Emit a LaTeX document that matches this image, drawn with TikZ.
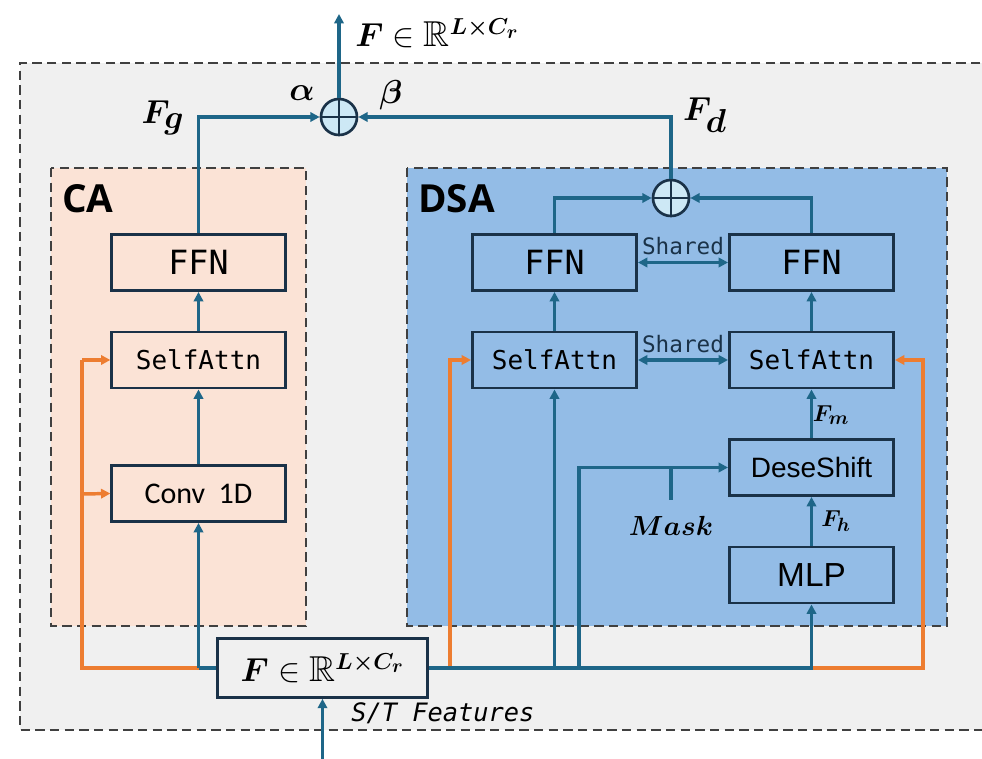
\documentclass[tikz,border=0pt]{standalone}
\usepackage{amsmath,amssymb,bm}
\usepackage{fontspec}
\newfontfamily\monofont{DejaVu Sans Mono}
\newfontfamily\calfont{Carlito}
\newfontfamily\arfont{Liberation Sans}
\newfontfamily\boldsans{Open Sans}
\usetikzlibrary{arrows.meta}
\definecolor{lineblue}{RGB}{30,102,136}
\definecolor{boxline}{RGB}{26,50,72}
\definecolor{dashgray}{RGB}{64,64,64}
\definecolor{outerbg}{RGB}{240,240,240}
\definecolor{cafill}{RGB}{251,227,214}
\definecolor{dsafill}{RGB}{147,188,230}
\definecolor{circfill}{RGB}{205,232,245}
\definecolor{orangeline}{RGB}{237,125,49}
\tikzset{
  blk/.style={draw=boxline, line width=2.2pt, inner sep=0pt, minimum width=123pt, minimum height=42pt, text=black},
  cablk/.style={blk, minimum width=130pt},
  bl/.style={draw=lineblue, line width=2.6pt},
  ora/.style={draw=orangeline, line width=2.6pt},
  tip/.style={-{Triangle[length=7pt,width=7pt]}},
  dtip/.style={{Triangle[length=7pt,width=7pt]}-{Triangle[length=7pt,width=7pt]}},
  region/.style={draw=dashgray, dashed, dash pattern=on 7pt off 4pt, line width=1.4pt},
  plus/.style={circle, draw=boxline, fill=circfill, line width=2pt, minimum size=27pt, inner sep=0pt},
  mlab/.style={inner sep=0pt, text=black}
}
\begin{document}
\begin{tikzpicture}[x=0.75pt,y=-0.75pt]
\useasboundingbox (0,0) rectangle (982,759);
% regions
\fill[outerbg] (20,63) rectangle (995,730);
\draw[region] (995,63) -- (20,63) -- (20,730) -- (995,730);
\filldraw[region, fill=cafill] (51,168) rectangle (306,626);
\filldraw[region, fill=dsafill] (407,168) rectangle (947,626);
\node[mlab, anchor=north west, font=\boldsans\bfseries\fontsize{29}{29}\selectfont] (calab) at (62,184) {CA};
\node[mlab, anchor=north west, font=\boldsans\bfseries\fontsize{29}{29}\selectfont] (dsalab) at (418,184) {DSA};
% CA blocks
\node[cablk, font=\monofont\fontsize{25}{25}\selectfont] (cffn) at (198.5,262.5) {FFN};
\node[cablk, font=\monofont\fontsize{19.5}{19.5}\selectfont] (csa) at (198.5,360) {SelfAttn};
\node[cablk, font=\calfont\fontsize{22.5}{22.5}\selectfont] (conv) at (198.5,493.5) {Conv\ \ 1D};
% DSA blocks
\node[blk, font=\monofont\fontsize{25}{25}\selectfont] (lffn) at (554.5,262.5) {FFN};
\node[blk, font=\monofont\fontsize{19.5}{19.5}\selectfont] (lsa) at (554.5,360) {SelfAttn};
\node[blk, font=\monofont\fontsize{25}{25}\selectfont] (rffn) at (811.5,262.5) {FFN};
\node[blk, font=\monofont\fontsize{19.5}{19.5}\selectfont] (rsa) at (811.5,360) {SelfAttn};
\node[blk, minimum height=42pt, font=\arfont\fontsize{21}{21}\selectfont] (dese) at (811.5,467.5) {DeseShift};
\node[blk, minimum height=42pt, font=\arfont\fontsize{25}{25}\selectfont] (mlp) at (811.5,575) {MLP};
% input box
\node[draw=boxline, line width=2.2pt, fill=outerbg, inner sep=0pt, minimum width=158pt, minimum height=44pt, font=\fontsize{27}{27}\selectfont] (fin) at (322.5,668) {$\bm{F}\in\mathbb{R}^{\bm{L\times C_r}}$};
% plus circles
\node[plus] (p1) at (339,117) {};
\draw[boxline, line width=1.7pt] (p1.north)--(p1.south) (p1.west)--(p1.east);
\node[plus] (p2) at (671,198) {};
\draw[boxline, line width=1.7pt] (p2.north)--(p2.south) (p2.west)--(p2.east);
% coordinates
\coordinate (inbot) at (322.5,759);
\coordinate (outtop) at (339,14);
\coordinate (jl) at (198.5,668);
\coordinate (ol) at (82,668);
\coordinate (olsa) at (82,360);
\coordinate (olcv) at (82,494);
\coordinate (or1) at (450,668);
\coordinate (or1t) at (450,360);
\coordinate (jr) at (811.5,668);
\coordinate (or2) at (923,668);
\coordinate (or2t) at (923,360);
\coordinate (b1) at (554.5,668);
\coordinate (b2) at (579,668);
\coordinate (b2t) at (579,467.5);
\coordinate (mk) at (671,467.5);
\coordinate (mkb) at (671,500);
% orange lines
\draw[ora] (jl) -- (ol) -- (olsa);
\draw[ora, tip] (olsa) -- (csa.west);
\draw[ora, tip] (olcv) -- (conv.west);
\draw[ora, tip] (or1) -- (or1t) -- (lsa.west);
\draw[ora, tip] (jr) -- (or2) -- (or2t) -- (rsa.east);
% blue lines
\draw[bl, tip] (inbot) -- (fin.south);
\draw[bl] (fin.west) -- (jl);
\draw[bl, tip] (jl) -- (conv.south);
\draw[bl, tip] (conv.north) -- (csa.south);
\draw[bl, tip] (csa.north) -- (cffn.south);
\draw[bl, tip] (cffn.north) |- (p1.west);
\draw[bl, tip] (fin.east) -- (jr) -- (mlp.south);
\draw[bl, tip] (b1) -- (lsa.south);
\draw[bl, tip] (b2) -- (b2t) -- (dese.west);
\draw[bl] (mk) -- (mkb);
\draw[bl, tip] (mlp.north) -- (dese.south);
\draw[bl, tip] (dese.north) -- (rsa.south);
\draw[bl, tip] (lsa.north) -- (lffn.south);
\draw[bl, tip] (rsa.north) -- (rffn.south);
\draw[bl, tip] (lffn.north) |- (p2.west);
\draw[bl, tip] (rffn.north) |- (p2.east);
\draw[bl, tip] (p2.north) |- (p1.east);
\draw[bl, tip] (p1.north) -- (outtop);
\draw[bl, dtip] (lffn.east) -- (rffn.west) node[midway, above=1pt, font=\monofont\fontsize{17}{17}\selectfont, text=boxline] (sh1) {Shared};
\draw[bl, dtip] (lsa.east) -- (rsa.west) node[midway, above=1pt, font=\monofont\fontsize{17}{17}\selectfont, text=boxline] (sh2) {Shared};
% labels
\node[mlab, anchor=base west, font=\fontsize{27}{27}\selectfont] (outlab) at (355,47) {$\bm{F}\in\mathbb{R}^{\bm{L\times C_r}}$};
\node[mlab, font=\fontsize{27}{27}\selectfont] (alab) at (302,93) {$\bm{\alpha}$};
\node[mlab, font=\fontsize{27}{27}\selectfont] (blab) at (391,95) {$\bm{\beta}$};
\node[mlab, font=\fontsize{28}{28}\selectfont] (fglab) at (163,118) {$\bm{F_{\textstyle g}}$};
\node[mlab, font=\fontsize{28}{28}\selectfont] (fdlab) at (705,115) {$\bm{F_{\textstyle d}}$};
\node[mlab, font=\fontsize{19}{19}\selectfont] (fmlab) at (831,415) {$\bm{F_m}$};
\node[mlab, font=\fontsize{19}{19}\selectfont] (fhlab) at (836,521) {$\bm{F_h}$};
\node[mlab, font=\fontsize{20}{20}\selectfont] (masklab) at (671,526) {$\bm{Mask}$};
\node[mlab, font=\monofont\itshape\fontsize{19}{19}\selectfont] (stlab) at (443,713) {S/T Features};
\end{tikzpicture}
\end{document}
